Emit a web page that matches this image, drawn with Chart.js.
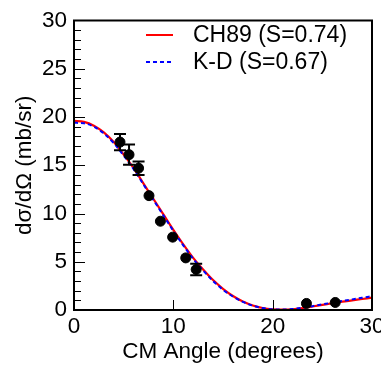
<!DOCTYPE html>
<html>
<head>
<meta charset="utf-8">
<script src="https://cdn.jsdelivr.net/npm/chart.js@4"></script>
<style>
  html, body { margin: 0; padding: 0; background: #fff; overflow: hidden; }
  #wrap { width: 381px; height: 368px; overflow: hidden; }
</style>
</head>
<body>
<div id="wrap"><canvas id="c" width="400" height="368" style="width:400px;height:368px"></canvas></div>
<script>
// measured points
const angles = [4.63, 5.54, 6.5, 7.55, 8.7, 9.93, 11.25, 12.3, 23.4, 26.3];
const xsec   = [17.4, 16.1, 14.7, 11.85, 9.2, 7.55, 5.4, 4.2, 0.68, 0.78];
const errs   = [0.85, 1.05, 0.7, 0, 0, 0, 0, 0.6, 0, 0];

// calculations
const curveAngles = [0,1,2,3,4,5,6,7,8,9,10,11,12,13,14,15,16,17,18,19,20,21,22,23,24,25,26,27,28,29,30];
const ch89 = [19.6,19.5,19.1,18.4,17.4,16.1,14.7,13.1,11.5,9.9,8.3,6.8,5.4,4.2,3.1,2.2,1.45,0.88,0.47,0.21,0.08,0.04,0.08,0.2,0.36,0.53,0.7,0.86,1.0,1.14,1.28];
const kd   = [19.4,19.35,19.0,18.3,17.3,16.0,14.6,13.0,11.4,9.8,8.2,6.7,5.3,4.1,3.0,2.1,1.4,0.85,0.45,0.2,0.08,0.05,0.1,0.23,0.4,0.58,0.76,0.93,1.1,1.27,1.43];

const xTicks = [10, 20];
const FONT = "Liberation Sans, Arial, Helvetica, sans-serif";

const pts = (xs, ys) => xs.map((x, i) => ({ x: x, y: ys[i] }));

// frame, inner ticks, error bars, legend
const extras = {
  id: "extras",
  afterDatasetsDraw(chart) {
    const ctx = chart.ctx;
    const a = chart.chartArea;
    const xs = chart.scales.x, ys = chart.scales.y;
    ctx.save();
    ctx.strokeStyle = "#000";

    // error bars
    ctx.lineWidth = 2;
    angles.forEach((ang, i) => {
      const px = xs.getPixelForValue(ang);
      const top = ys.getPixelForValue(xsec[i] + errs[i]);
      const bot = ys.getPixelForValue(xsec[i] - errs[i]);
      if (bot - top < 10) return;
      ctx.beginPath();
      ctx.moveTo(px, top); ctx.lineTo(px, bot);
      ctx.moveTo(px - 6, top); ctx.lineTo(px + 6, top);
      ctx.moveTo(px - 6, bot); ctx.lineTo(px + 6, bot);
      ctx.stroke();
    });

    // inner ticks
    ctx.lineWidth = 1;
    ctx.beginPath();
    for (let v = 1; v < 30; v++) {
      const py = Math.round(ys.getPixelForValue(v)) + 0.5;
      const len = v % 5 === 0 ? 11 : 7;
      ctx.moveTo(a.left, py); ctx.lineTo(a.left + len, py);
    }
    xTicks.forEach(v => {
      const px = Math.round(xs.getPixelForValue(v)) + 0.5;
      ctx.moveTo(px, a.bottom); ctx.lineTo(px, a.bottom - 10);
    });
    ctx.stroke();

    // frame
    ctx.lineWidth = 2;
    ctx.strokeRect(a.left, a.top, a.right - a.left, a.bottom - a.top);

    // legend
    ctx.lineWidth = 2;
    ctx.strokeStyle = "#ff0000";
    ctx.beginPath(); ctx.moveTo(146, 35); ctx.lineTo(173, 35); ctx.stroke();
    ctx.strokeStyle = "#0000ff";
    ctx.setLineDash([4, 3]);
    ctx.beginPath(); ctx.moveTo(146, 62); ctx.lineTo(173, 62); ctx.stroke();
    ctx.setLineDash([]);
    ctx.fillStyle = "#000";
    ctx.font = "23px " + FONT;
    ctx.textBaseline = "middle";
    ctx.fillText("CH89 (S=0.74)", 193, 36);
    ctx.fillText("K-D (S=0.67)", 193, 63);
    ctx.restore();
  }
};

new Chart(document.getElementById("c"), {
  type: "scatter",
  data: {
    datasets: [
      {
        label: "data",
        data: pts(angles, xsec),
        backgroundColor: "#000",
        borderColor: "#000",
        pointRadius: 5,
        order: 0
      },
      {
        type: "line",
        label: "K-D (S=0.67)",
        data: pts(curveAngles, kd),
        borderColor: "#0000ff",
        borderWidth: 2,
        borderDash: [4, 3],
        pointRadius: 0,
        cubicInterpolationMode: "monotone",
        order: 1
      },
      {
        type: "line",
        label: "CH89 (S=0.74)",
        data: pts(curveAngles, ch89),
        borderColor: "#ff0000",
        borderWidth: 2.2,
        pointRadius: 0,
        cubicInterpolationMode: "monotone",
        order: 2
      }
    ]
  },
  options: {
    responsive: false,
    animation: false,
    layout: { padding: { left: 0, right: 28, top: 13, bottom: 0 } },
    plugins: { legend: { display: false }, tooltip: { enabled: false } },
    scales: {
      x: {
        type: "linear", min: 0, max: 30,
        grid: { display: false, drawTicks: false },
        border: { display: false },
        ticks: { stepSize: 10, padding: 3, color: "#000", font: { family: FONT, size: 22.5 } },
        title: { display: true, text: "CM Angle (degrees)", color: "#000", padding: { top: 0, bottom: 3 }, font: { family: FONT, size: 22.5 } },
        afterFit(s) { s.height = 58; }
      },
      y: {
        type: "linear", min: 0, max: 30,
        grid: { display: false, drawTicks: false },
        border: { display: false },
        ticks: { stepSize: 5, padding: 7, color: "#000", font: { family: FONT, size: 22.5 } },
        title: { display: true, text: "dσ/dΩ (mb/sr)", color: "#000", padding: { top: 11, bottom: 0 }, font: { family: FONT, size: 22.5 } },
        afterFit(s) { s.width = 74; }
      }
    }
  },
  plugins: [extras]
});
</script>
</body>
</html>
